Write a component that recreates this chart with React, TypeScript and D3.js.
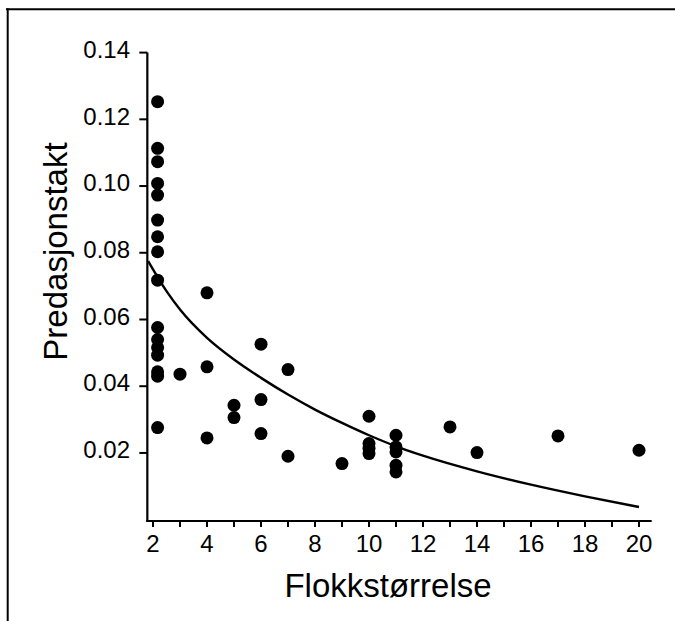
import React from "react";
import * as d3 from "d3";

// Observed points: flock size vs predation rate
const flockSize: number[] = [
  2.17, 2.17, 2.17, 2.17, 2.17, 2.17, 2.17, 2.17, 2.17,
  2.17, 2.17, 2.17, 2.17, 2.17, 2.17, 2.17,
  3, 4, 4, 4, 5, 5, 6, 6, 6, 7, 7, 9,
  10, 10, 10, 10, 11, 11, 11, 11, 11, 13, 14, 17, 20,
];
const predationRate: number[] = [
  0.1253, 0.1113, 0.1073, 0.1008, 0.0973, 0.0898, 0.0848, 0.0803, 0.0718,
  0.0576, 0.054, 0.0516, 0.0493, 0.0443, 0.043, 0.0276,
  0.0436, 0.068, 0.0458, 0.0245, 0.0343, 0.0306, 0.0526, 0.036, 0.0258, 0.045, 0.019, 0.0168,
  0.031, 0.0228, 0.0214, 0.0198, 0.0253, 0.0218, 0.0203, 0.0163, 0.0143, 0.0278, 0.0201, 0.0251, 0.0208,
];

// Fitted curve
const fitX: number[] = [1.82, 2.5, 3, 4, 5, 6, 7, 8, 9, 10, 11, 12, 14, 16, 18, 20];
const fitY: number[] = [
  0.0775, 0.0685, 0.063, 0.0545, 0.048, 0.0425, 0.0375, 0.033, 0.029, 0.0253,
  0.022, 0.0192, 0.0145, 0.0105, 0.007, 0.0038,
];

const xTicks: number[] = d3.range(2, 21, 1);
const xLabelTicks: number[] = d3.range(2, 21, 2);
const yTicks: number[] = [0.02, 0.04, 0.06, 0.08, 0.1, 0.12, 0.14];

const xTitle = "Flokkstørrelse";
const yTitle = "Predasjonstakt";

const W = 675;
const H = 621;
const FONT = "'Liberation Sans', Arial, Helvetica, sans-serif";

export default function App() {
  const x = d3.scaleLinear().domain([2, 20]).range([153, 639]);
  const y = d3.scaleLinear().domain([-0.0004, 0.14]).range([521, 52.6]);
  const axisLeft = x(1.79);
  const axisRight = x(20.47);
  const axisBottom = y(-0.0004);
  const axisTop = y(0.14);

  const fitPts = fitX.map((v, i) => [v, fitY[i]] as [number, number]);
  const line = d3
    .line<[number, number]>()
    .x((d) => x(d[0]))
    .y((d) => y(d[1]))
    .curve(d3.curveMonotoneX);

  return (
    <svg
      width={W}
      height={H}
      style={{ position: "absolute", left: 0, top: 0, background: "#fff" }}
      fontFamily={FONT}
    >
      <rect x={0} y={0} width={W} height={H} fill="#fff" />
      {/* frame */}
      <line x1={6} y1={9.3} x2={W} y2={9.3} stroke="#000" strokeWidth={2} />
      <line x1={7.7} y1={8.3} x2={7.7} y2={H} stroke="#000" strokeWidth={2} />

      {/* axes */}
      <line x1={axisLeft} y1={axisTop} x2={axisLeft} y2={axisBottom + 1} stroke="#000" strokeWidth={2.2} />
      <line x1={axisLeft - 1} y1={axisBottom} x2={axisRight} y2={axisBottom} stroke="#000" strokeWidth={2.2} />

      {/* y ticks */}
      {yTicks.map((t) => (
        <g key={"y" + t}>
          <line x1={axisLeft - 8} x2={axisLeft} y1={y(t)} y2={y(t)} stroke="#000" strokeWidth={2} />
          <text
            x={130}
            y={y(t)}
            dy="0.22em"
            textAnchor="end"
            fontSize={24}
            fill="#000"
          >
            {t.toFixed(2)}
          </text>
        </g>
      ))}

      {/* x ticks */}
      {xTicks.map((t) => (
        <line key={"xt" + t} x1={x(t)} x2={x(t)} y1={axisBottom} y2={axisBottom + 6} stroke="#000" strokeWidth={2} />
      ))}
      {xLabelTicks.map((t) => (
        <text key={"xl" + t} x={x(t)} y={552} textAnchor="middle" fontSize={24} fill="#000">
          {t}
        </text>
      ))}

      {/* titles */}
      <text x={388} y={597} textAnchor="middle" fontSize={33} fill="#000">
        {xTitle}
      </text>
      <text
        transform={`translate(67,251.5) rotate(-90)`}
        textAnchor="middle"
        fontSize={33}
        fill="#000"
      >
        {yTitle}
      </text>

      {/* fitted curve */}
      <path d={line(fitPts) || ""} fill="none" stroke="#000" strokeWidth={2.4} />

      {/* points */}
      {flockSize.map((v, i) => (
        <circle key={"p" + i} cx={x(v)} cy={y(predationRate[i])} r={6.5} fill="#000" />
      ))}
    </svg>
  );
}
